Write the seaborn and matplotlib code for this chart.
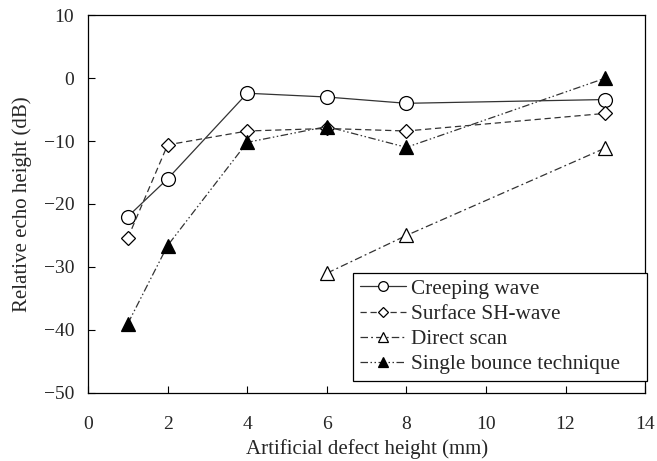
import seaborn as sns
import matplotlib.pyplot as plt
import pandas as pd

# echo heights
creep_x = [1, 2, 4, 6, 8, 13]
creep_y = [-22, -16, -2.4, -3, -4, -3.4]
sh_x = [1, 2, 4, 6, 8, 13]
sh_y = [-25.4, -10.6, -8.4, -8, -8.4, -5.6]
direct_x = [6, 8, 13]
direct_y = [-31, -25, -11.1]
bounce_x = [1, 2, 4, 6, 8, 13]
bounce_y = [-39, -26.6, -10.2, -7.7, -11, 0]

sns.set_style('ticks')
plt.rcParams['font.family'] = ['Liberation Serif', 'DejaVu Serif']
plt.rcParams['xtick.direction'] = 'in'
plt.rcParams['ytick.direction'] = 'in'

fig = plt.figure(figsize=(6.57, 4.61), dpi=100)
ax = fig.add_axes([0.134, 0.148, 0.848, 0.819])

series = [
    ('Creeping wave', creep_x, creep_y, '-', 'o', 'white', 10),
    ('Surface SH-wave', sh_x, sh_y, (0, (5, 3)), 'D', 'white', 7),
    ('Direct scan', direct_x, direct_y, (0, (6, 2.5, 1.5, 2.5)), '^', 'white', 10),
    ('Single bounce technique', bounce_x, bounce_y, (0, (6, 2, 1.2, 2, 1.2, 2)), '^', 'black', 10),
]

for name, x, y, ls, mk, fc, ms in series:
    df = pd.DataFrame({'x': x, 'y': y})
    sns.lineplot(data=df, x='x', y='y', ax=ax, color='#333333', linewidth=0.9,
                 linestyle=ls, marker=mk, markersize=ms, markerfacecolor=fc,
                 markeredgecolor='black', markeredgewidth=0.9, label=name)

ax.set_xlim(0, 14)
ax.set_ylim(-50, 10)
ax.set_xticks(range(0, 15, 2))
ax.set_yticks(range(-50, 11, 10))
ax.set_yticklabels(['\u221250', '\u221240', '\u221230', '\u221220', '\u221210', '0', '10'])
ax.tick_params(labelsize=14, length=5, width=0.8, color='black')
ax.tick_params(axis='x', pad=17)
ax.tick_params(axis='y', pad=10)
ax.set_xlabel('Artificial defect height (mm)', fontsize=15, labelpad=4)
ax.set_ylabel('Relative echo height (dB)', fontsize=15, labelpad=8)
for s in ax.spines.values():
    s.set_linewidth(0.9)
    s.set_color('black')

leg = ax.legend(loc='lower left', bbox_to_anchor=(0.476, 0.032, 0.528, 0.2),
                mode='expand', fontsize=15.3, markerscale=0.7,
                frameon=True, fancybox=False, edgecolor='black', framealpha=1,
                handlelength=2.2, handletextpad=0.2, labelspacing=0.25,
                borderpad=0.3, borderaxespad=0)
leg.get_frame().set_linewidth(0.9)

fig.savefig('out.png', dpi=100)
